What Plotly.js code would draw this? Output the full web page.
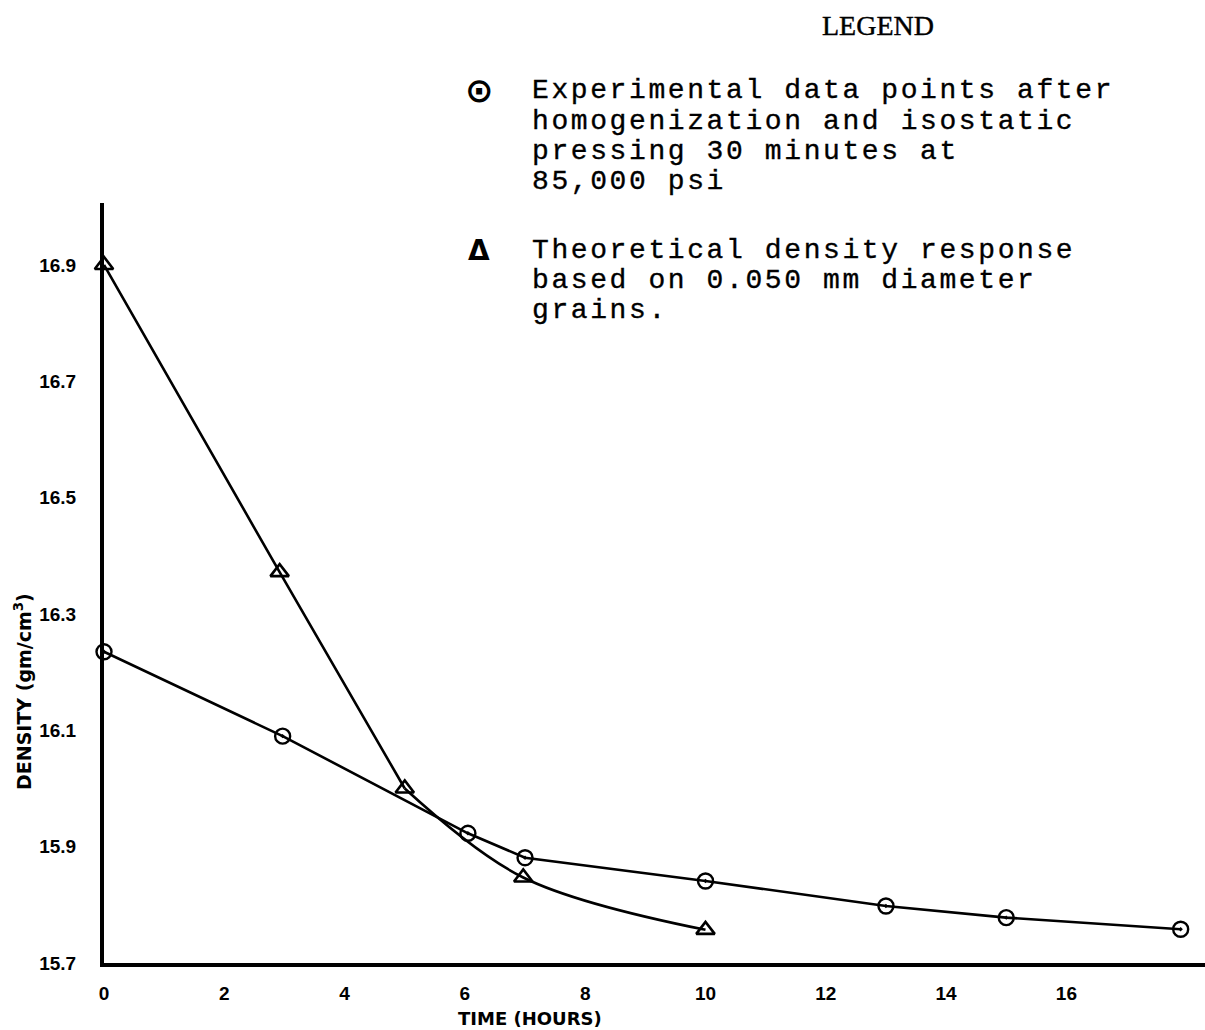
<!DOCTYPE html>
<html>
<head>
<meta charset="utf-8">
<script src="https://cdn.plot.ly/plotly-3.0.1.min.js"></script>
<style>
  html, body { margin: 0; padding: 0; background: #fff; }
  #chart { width: 1205px; height: 1030px; }
  /* typewriter look for the legend entries */
  text.annotation-text[style*="Mono"] { letter-spacing: 2.6px; stroke: #000; stroke-width: 0.35px; }
  text.annotation-text[style*="Serif"] { stroke: #000; stroke-width: 0.4px; }
</style>
</head>
<body>
<div id="chart"></div>
<script>
// Experimental densities after homogenization + isostatic pressing
const timeExp = [0, 2.97, 6.05, 7.0, 10.0, 13.0, 15.0, 17.9];
const densityExp = [16.235, 16.09, 15.923, 15.881, 15.841, 15.798, 15.778, 15.758];

// Theoretical density response, 0.050 mm grains
const timeTheory = [0, 2.92, 5.0, 6.97, 10.0];
const densityTheory = [16.9, 16.372, 16.0, 15.847, 15.757];

// Axis ticks
const xTickVals = [0, 2, 4, 6, 8, 10, 12, 14, 16];
const yTickVals = [15.7, 15.9, 16.1, 16.3, 16.5, 16.7, 16.9];
const yTickText = ['15.7', '15.9', '16.1', '16.3', '16.5', '16.7', '16.9'];

// Legend wording
const legendExp = [
  'Experimental data points after',
  'homogenization and isostatic',
  'pressing 30 minutes at',
  '85,000 psi'
];
const legendTheory = [
  'Theoretical density response',
  'based on 0.050 mm diameter',
  'grains.'
];

// Plot-area geometry in pixels
const W = 1205, H = 1030;
const M = { l: 104, r: 0, t: 203, b: 67 };
const PW = W - M.l - M.r, PH = H - M.t - M.b;
const px = x => (x - M.l) / PW;
const py = y => (H - M.b - y) / PH;

const ink = '#000';
const lineW = 2.6;

// The theoretical response runs straight down to 5 h, then bends smoothly
const bend = 2;
const traces = [
  {
    x: timeTheory.slice(0, bend + 1), y: densityTheory.slice(0, bend + 1),
    type: 'scatter', mode: 'lines',
    line: { color: ink, width: lineW },
    cliponaxis: false, showlegend: false, hoverinfo: 'skip'
  },
  {
    x: timeTheory.slice(bend), y: densityTheory.slice(bend),
    type: 'scatter', mode: 'lines',
    line: { color: ink, width: lineW, shape: 'spline', smoothing: 1 },
    cliponaxis: false, showlegend: false, hoverinfo: 'skip'
  },
  {
    x: timeTheory, y: densityTheory,
    type: 'scatter', mode: 'markers',
    marker: { symbol: 'triangle-up-open', size: 16, color: ink, line: { color: ink, width: 2.6 } },
    cliponaxis: false, showlegend: false, hoverinfo: 'x+y'
  },
  {
    x: timeExp, y: densityExp,
    type: 'scatter', mode: 'lines+markers',
    line: { color: ink, width: lineW },
    marker: { symbol: 'circle-open-dot', size: 15, color: ink, line: { color: ink, width: 2.4 } },
    cliponaxis: false, showlegend: false, hoverinfo: 'x+y'
  }
];

const monoFont = { family: 'Liberation Mono, Courier New, monospace', size: 28, color: ink };
const annotations = [];

function textAt(text, x, y, font, opts) {
  annotations.push(Object.assign({
    text: text, xref: 'paper', yref: 'paper',
    x: px(x), y: py(y), xanchor: 'left', yanchor: 'middle',
    showarrow: false, font: font
  }, opts || {}));
}

// Legend heading and entries
textAt('LEGEND', 878, 25, { family: 'Liberation Serif, Times New Roman, serif', size: 28, color: ink }, { xanchor: 'center' });
textAt('\u2299', 479, 90, { family: 'DejaVu Sans', size: 34, color: ink, weight: 'bold' }, { xanchor: 'center' });
legendExp.forEach((line, i) => textAt(line, 530, 91 + i * 30, monoFont));
textAt('\u0394', 479, 250, { family: 'DejaVu Sans', size: 28, color: ink, weight: 'bold' }, { xanchor: 'center' });
legendTheory.forEach((line, i) => textAt(line, 530, 250 + i * 30, monoFont));

// Axis titles
textAt('TIME (HOURS)', 530, 1018, { family: 'DejaVu Sans', size: 18, color: ink, weight: 'bold' }, { xanchor: 'center' });
textAt('DENSITY (gm/cm<sup>3</sup>)', 23, 692, { family: 'DejaVu Sans', size: 19, color: ink, weight: 'bold' }, { xanchor: 'center', textangle: -90 });

const tickFont = { family: 'Liberation Sans, Arial, sans-serif', size: 19, color: ink, weight: 'bold' };

const layout = {
  width: W, height: H,
  margin: M,
  paper_bgcolor: '#fff', plot_bgcolor: '#fff',
  xaxis: {
    range: [0, PW / 60.15],
    showgrid: false, zeroline: false,
    showline: true, linecolor: ink, linewidth: 4,
    tickvals: xTickVals,
    ticks: 'outside', ticklen: 10, tickcolor: 'rgba(0,0,0,0)',
    tickfont: tickFont
  },
  yaxis: {
    range: [15.7, 15.7 + PH / 581.7],
    showgrid: false, zeroline: false,
    showline: true, linecolor: ink, linewidth: 4,
    tickvals: yTickVals, ticktext: yTickText,
    ticks: 'outside', ticklen: 20, tickcolor: 'rgba(0,0,0,0)',
    tickfont: tickFont
  },
  annotations: annotations
};

Plotly.newPlot('chart', traces, layout, { displayModeBar: false, staticPlot: true });
</script>
</body>
</html>
